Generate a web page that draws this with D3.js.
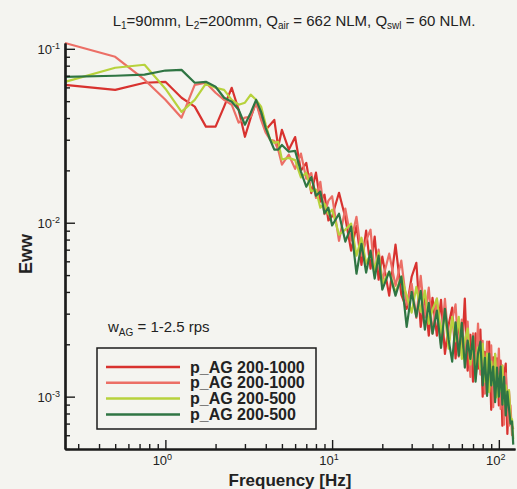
<!DOCTYPE html>
<html>
<head>
<meta charset="utf-8">
<script src="https://cdn.jsdelivr.net/npm/d3@7"></script>
<style>
  body { margin: 0; background: #f4f4f0; }
  svg { display: block; font-family: "Liberation Sans", Arial, sans-serif; }
</style>
</head>
<body>
<svg id="chart"></svg>
<script>
// frequency grid [Hz]
const freq = [0.25,0.5,0.75,1,1.25,1.5,1.75,2,2.25,2.5,2.75,3,3.25,3.5,3.75,4,4.25,4.5,4.75,5,
  5.5,6,6.5,7,7.5,8,8.5,9,9.5,10, 11,12,13,14,15,16,17,18,19,20,
  22,24,26,28,30,32,34,36,38,40,
  42.5,45,47.5,50,52.5,55,57.5,60,62.5,65,67.5,70,72.5,75,77.5,80,82.5,85,87.5,90,
  92.5,95,97.5,100,102.5,105,107.5,110,112.5,115,117.5,120,122];

// Eww values, one array per case
const ag1000a = [0.0621,0.0581,0.0638,0.0646,0.0523,0.0465,0.0357,0.0357,0.0465,0.0597,0.0446,0.0312,0.0402,0.0496,0.0402,0.0342,0.0366,0.039,0.0273,0.0342,
  0.0263,0.0311,0.0199,0.0221,0.0148,0.0194,0.0132,0.0145,0.0103,0.0109,
  0.01486,0.01071,0.00691,0.00961,0.00573,0.00901,0.00544,0.00832,0.0047,0.00638,
  0.00381,0.00748,0.00386,0.0032,0.00489,0.00588,0.00252,0.00386,0.00224,0.0037,
  0.00224,0.0036,0.00176,0.00259,0.00325,0.00166,0.00277,0.00172,0.00366,0.00141,
  0.00227,0.00122,0.00231,0.00145,0.00243,0.001,0.00181,0.00117,0.00207,0.00084,
  0.00168,0.0011,0.00166,0.00089,0.00161,0.00068,0.00133,0.00155,0.00061,0.00108,
  0.00073,0.00068,0.00065];
const ag1000b = [0.108,0.090,0.0664,0.0509,0.0402,0.0621,0.0638,0.0559,0.0509,0.0477,0.0376,0.0402,0.0407,0.049,0.039,0.0329,0.030,0.0296,0.0263,0.0216,
  0.0246,0.0204,0.0250,0.0179,0.0193,0.0139,0.0172,0.0112,0.0134,0.0142,
  0.00787,0.01206,0.00788,0.01082,0.00646,0.0079,0.00912,0.00496,0.007,0.00464,
  0.00664,0.00434,0.00605,0.00337,0.00446,0.00284,0.00495,0.00285,0.00423,0.0023,
  0.00366,0.00199,0.00365,0.00204,0.00277,0.00339,0.0017,0.00277,0.00172,0.0027,
  0.0013,0.00231,0.00132,0.00263,0.00134,0.00209,0.00104,0.00207,0.00124,0.00197,
  0.00087,0.00176,0.00103,0.00189,0.00085,0.00151,0.00069,0.00136,0.0009,0.00068,
  0.00089,0.0006,0.0006];
const ag500a = [0.0646,0.0778,0.081,0.059,0.0434,0.0509,0.063,0.0597,0.0581,0.0509,0.0477,0.049,0.0545,0.0509,0.0465,0.0366,0.030,0.0288,0.0292,0.0231,
  0.0236,0.0229,0.0182,0.0194,0.0152,0.0155,0.0122,0.0129,0.0112,0.0119,
  0.00853,0.00913,0.00988,0.00646,0.0082,0.00582,0.00664,0.00537,0.00673,0.00446,
  0.00523,0.00396,0.0049,0.0038,0.00304,0.00428,0.00307,0.00407,0.00262,0.00316,
  0.00366,0.00233,0.00296,0.00189,0.00288,0.0021,0.00288,0.00165,0.0021,0.00246,
  0.00153,0.00213,0.00127,0.00192,0.00145,0.00201,0.00122,0.00177,0.00106,0.00159,
  0.00117,0.00176,0.00099,0.00132,0.00108,0.00151,0.00091,0.00116,0.00096,0.00109,
  0.00076,0.00074,0.00057];
const ag500b = [0.069,0.070,0.071,0.075,0.0757,0.0638,0.0646,0.0605,0.0523,0.0496,0.0446,0.0366,0.0429,0.0509,0.0434,0.035,0.030,0.0263,0.0263,0.028,
  0.0256,0.0259,0.0197,0.0161,0.0183,0.0143,0.0151,0.0113,0.0122,0.00964,
  0.01126,0.00779,0.0095,0.00509,0.00757,0.00517,0.00691,0.00477,0.00647,0.00412,
  0.00523,0.00381,0.0049,0.00252,0.00401,0.00288,0.00406,0.00243,0.00346,0.0023,
  0.00312,0.00191,0.0032,0.00212,0.00159,0.00267,0.00172,0.00266,0.00147,0.0021,
  0.00165,0.00222,0.00122,0.00177,0.00207,0.00116,0.00167,0.00101,0.00177,0.00116,
  0.00149,0.00093,0.00147,0.001,0.00149,0.0009,0.0013,0.00078,0.00107,0.00086,
  0.0007,0.00072,0.00053];

const seriesNames = ["p_AG 200-1000", "p_AG 200-1000", "p_AG 200-500", "p_AG 200-500"];
const seriesColors = ["#d8322f", "#ec6f66", "#b7d23c", "#2f7543"];
const seriesValues = [ag1000a, ag1000b, ag500a, ag500b];

const xMajor = [1, 10, 100];
const yMajor = [1e-1, 1e-2, 1e-3];

const W = 517, H = 489;
const svg = d3.select("#chart").attr("width", W).attr("height", H);

svg.append("rect").attr("width", W).attr("height", H).attr("fill", "#f4f4f0");

// scales (log-log)
const x = d3.scaleLog().domain([0.25, 125]).range([65, 515]);
const y = d3.scaleLog().domain([5e-4, 0.108]).range([449, 43]);

// minor tick values
const xMinor = [];
[0.1, 1, 10, 100].forEach(d => {
  for (let k = 2; k <= 9; k++) {
    const v = d * k;
    if (v > 0.25 && v < 125 && !xMajor.includes(v)) xMinor.push(v);
  }
});
const yMinor = [];
[1e-4, 1e-3, 1e-2].forEach(d => {
  for (let k = 2; k <= 9; k++) {
    const v = d * k;
    if (v >= 5e-4 && v < 0.108) yMinor.push(v);
  }
});

// data lines
const line = d3.line()
  .x(d => x(d[0]))
  .y(d => y(d[1]));

seriesValues.forEach((vals, i) => {
  svg.append("path")
    .datum(freq.map((f, j) => [f, vals[j]]))
    .attr("d", line)
    .attr("fill", "none")
    .attr("stroke", seriesColors[i])
    .attr("stroke-width", 2.2)
    .attr("stroke-linejoin", "round");
});

// axes
const axisColor = "#1b1b1b";
const gx = svg.append("g").attr("transform", `translate(0,${y.range()[0]})`);
gx.call(d3.axisBottom(x).tickValues(xMinor).tickSize(-5).tickSizeOuter(0).tickFormat(""));
gx.append("g").call(d3.axisBottom(x).tickValues(xMajor).tickSize(-9).tickSizeOuter(0).tickFormat(""));

const gy = svg.append("g").attr("transform", `translate(${x.range()[0]},0)`);
gy.call(d3.axisLeft(y).tickValues(yMinor).tickSize(-5).tickSizeOuter(0).tickFormat(""));
gy.append("g").call(d3.axisLeft(y).tickValues(yMajor).tickSize(-10).tickSizeOuter(0).tickFormat(""));

svg.selectAll(".domain").attr("stroke", axisColor).attr("stroke-width", 2.2);
svg.selectAll(".tick line").attr("stroke", axisColor).attr("stroke-width", 1.4);

// tick labels, 10^n
function powLabel(g, base, exp) {
  const t = g.append("text").attr("fill", "#222").style("font-size", "13px");
  t.append("tspan").text(base);
  t.append("tspan").attr("dy", -5).style("font-size", "9px").text(exp);
  return t;
}
xMajor.forEach(v => {
  powLabel(svg, "10", Math.round(Math.log10(v)))
    .attr("x", x(v) - 3)
    .attr("y", 465)
    .attr("text-anchor", "middle");
});
yMajor.forEach(v => {
  powLabel(svg, "10", Math.round(Math.log10(v)))
    .attr("x", 60)
    .attr("y", y(v) + 5)
    .attr("text-anchor", "end");
});

// axis titles
svg.append("text")
  .attr("x", 290).attr("y", 486)
  .attr("text-anchor", "middle")
  .style("font-size", "17px").style("font-weight", "bold").attr("fill", "#222")
  .text("Frequency [Hz]");

svg.append("text")
  .attr("transform", "translate(32,254) rotate(-90)")
  .attr("text-anchor", "middle")
  .style("font-size", "18px").style("font-weight", "bold").attr("fill", "#222")
  .text("Eww");

// title with subscripts
const title = svg.append("text")
  .attr("x", 294).attr("y", 26)
  .attr("text-anchor", "middle")
  .style("font-size", "15px").attr("fill", "#222");
[["L", ""], ["1", "sub"], ["=90mm, L", ""], ["2", "sub"], ["=200mm, Q", ""], ["air", "sub"],
 [" = 662 NLM, Q", ""], ["swl", "sub"], [" = 60 NLM.", ""]].forEach(([s, k], i, arr) => {
  const prevSub = i > 0 && arr[i - 1][1] === "sub";
  title.append("tspan")
    .attr("dy", k === "sub" ? 3 : (prevSub ? -3 : 0))
    .style("font-size", k === "sub" ? "10px" : "15px")
    .text(s);
});

// annotation
const note = svg.append("text").attr("x", 108).attr("y", 332)
  .style("font-size", "15px").attr("fill", "#222");
note.append("tspan").text("w");
note.append("tspan").attr("dy", 4).style("font-size", "10px").text("AG");
note.append("tspan").attr("dy", -4).text(" = 1-2.5 rps");

// legend
const lg = svg.append("g");
lg.append("rect")
  .attr("x", 97).attr("y", 348).attr("width", 219).attr("height", 81)
  .attr("fill", "#f4f4f0").attr("stroke", axisColor).attr("stroke-width", 1.5);
seriesNames.forEach((name, i) => {
  const yy = 367 + i * 15.8;
  lg.append("line")
    .attr("x1", 106).attr("x2", 180).attr("y1", yy).attr("y2", yy)
    .attr("stroke", seriesColors[i]).attr("stroke-width", 2.5);
  lg.append("text")
    .attr("x", 190).attr("y", yy + 5.5)
    .style("font-size", "16px").style("font-weight", "bold").attr("fill", "#222")
    .text(name);
});
</script>
</body>
</html>
